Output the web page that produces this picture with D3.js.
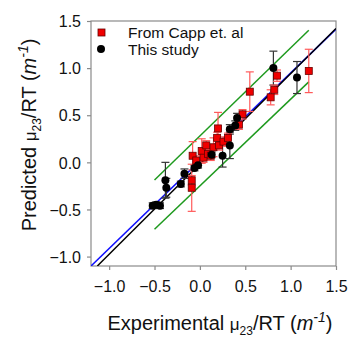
<!DOCTYPE html>
<html>
<head>
  <style>
    body { margin: 0; background: #fff; }
    svg { font-family: Arial, "Liberation Sans", sans-serif; }
  </style>
</head>
<body>
  <svg width="349" height="338"></svg>
  <script src="https://d3js.org/d3.v7.min.js"></script>
  <script>
    // From Capp et. al : [experimental, predicted, error]
    const cappX = [-0.09, -0.09, -0.08, -0.04, 0.02, 0.04, 0.07, 0.09, 0.12, 0.15, 0.19, 0.21, 0.20, 0.26, 0.31, 0.43, 0.47, 0.55, 0.78, 0.82, 0.85, 1.20];
    const cappY = [-0.27, -0.19, 0.07, 0.02, 0.12, 0.05, 0.18, 0.09, 0.07, 0.16, 0.26, 0.18, 0.36, 0.22, 0.26, 0.40, 0.51, 0.75, 0.69, 0.77, 0.92, 0.97];
    const cappErr = [0.25, 0.05, 0.15, 0.05, 0.13, 0.05, 0.05, 0.05, 0.05, 0.10, 0.06, 0.05, 0.17, 0.05, 0.05, 0.05, 0.05, 0.21, 0.08, 0.05, 0.06, 0.23];

    // This study
    const studyX = [-0.52, -0.48, -0.44, -0.38, -0.37, -0.21, -0.17, -0.06, -0.02, 0.13, 0.25, 0.33, 0.33, 0.39, 0.41, 0.81, 1.07];
    const studyY = [-0.46, -0.45, -0.46, -0.19, -0.27, -0.23, -0.12, -0.06, -0.03, 0.08, 0.07, 0.18, 0.35, 0.39, 0.47, 1.00, 0.90];
    const studyErr = [0.03, 0.03, 0.03, 0.19, 0.10, 0.03, 0.05, 0.03, 0.03, 0.03, 0.12, 0.14, 0.05, 0.05, 0.05, 0.18, 0.17];

    // fit lines [slope, intercept, xStart, xEnd]
    const blueLine = [0.931, 0.017, -1.2, 1.5];
    const blackLine = [0.958, -0.017, -1.13, 1.5];
    const upperBand = [0.935, 0.28, -0.5, 1.2];
    const lowerBand = [0.92, -0.25, -0.5, 1.2];

    const xTicks = [-1.0, -0.5, 0.0, 0.5, 1.0, 1.5];
    const yTicks = [-1.0, -0.5, 0.0, 0.5, 1.0, 1.5];

    const pLeft = 91, pRight = 336, pTop = 21, pBottom = 266;
    const svg = d3.select("svg");

    const x = d3.scaleLinear().domain([-1.2, 1.5]).range([pLeft, pRight]);
    const y = d3.scaleLinear().domain([-1.1, 1.5]).range([pBottom, pTop]);

    svg.append("defs").append("clipPath").attr("id", "plot")
      .append("rect").attr("x", pLeft).attr("y", pTop)
      .attr("width", pRight - pLeft).attr("height", pBottom - pTop);

    const axisColor = "#8a8a8a";

    // frame
    svg.append("rect")
      .attr("x", pLeft).attr("y", pTop)
      .attr("width", pRight - pLeft).attr("height", pBottom - pTop)
      .attr("fill", "none").attr("stroke", axisColor).attr("stroke-width", 1.2);

    const xAxis = svg.append("g")
      .attr("transform", `translate(0,${pBottom})`)
      .call(d3.axisBottom(x).tickValues(xTicks).tickFormat(d3.format(".1f")).tickSize(4).tickPadding(11));
    const yAxis = svg.append("g")
      .attr("transform", `translate(${pLeft},0)`)
      .call(d3.axisLeft(y).tickValues(yTicks).tickFormat(d3.format(".1f")).tickSize(4).tickPadding(6));

    [xAxis, yAxis].forEach(a => {
      a.select(".domain").remove();
      a.selectAll("line").attr("stroke", axisColor).attr("stroke-width", 1.2);
      a.selectAll("text").attr("font-size", 16).attr("fill", "#111")
        .attr("font-family", "Arial, 'Liberation Sans', sans-serif");
    });
    yAxis.selectAll("text").attr("dy", "0.36em");

    // lines
    const lines = svg.append("g").attr("clip-path", "url(#plot)");
    function drawLine([m, b, x0, x1], color) {
      lines.append("line")
        .attr("x1", x(x0)).attr("y1", y(m * x0 + b))
        .attr("x2", x(x1)).attr("y2", y(m * x1 + b))
        .attr("stroke", color).attr("stroke-width", 1.5);
    }
    drawLine(upperBand, "#1e9a1e");
    drawLine(lowerBand, "#1e9a1e");
    drawLine(blueLine, "#1010ff");
    drawLine(blackLine, "#000");

    function errorBars(xs, ys, es, color) {
      const g = svg.append("g").attr("stroke", color).attr("stroke-width", 1.2);
      xs.forEach((d, i) => {
        const cx = x(d), y0 = y(ys[i] - es[i]), y1 = y(ys[i] + es[i]);
        g.append("line").attr("x1", cx).attr("x2", cx).attr("y1", y0).attr("y2", y1);
        g.append("line").attr("x1", cx - 4).attr("x2", cx + 4).attr("y1", y0).attr("y2", y0);
        g.append("line").attr("x1", cx - 4).attr("x2", cx + 4).attr("y1", y1).attr("y2", y1);
      });
    }
    errorBars(studyX, studyY, studyErr, "#333");
    errorBars(cappX, cappY, cappErr, "#ff5a5a");

    const sq = 7;
    svg.append("g").selectAll("rect")
      .data(cappX)
      .join("rect")
      .attr("x", (d) => x(d) - sq / 2)
      .attr("y", (d, i) => y(cappY[i]) - sq / 2)
      .attr("width", sq).attr("height", sq)
      .attr("fill", "#f00000").attr("stroke", "#600").attr("stroke-width", 0.8);

    svg.append("g").selectAll("circle")
      .data(studyX)
      .join("circle")
      .attr("cx", (d) => x(d))
      .attr("cy", (d, i) => y(studyY[i]))
      .attr("r", 4)
      .attr("fill", "#000");

    // legend
    const legend = svg.append("g").attr("font-size", 15.5).attr("fill", "#111");
    legend.append("rect").attr("x", 98).attr("y", 29).attr("width", 7).attr("height", 7)
      .attr("fill", "#f00000").attr("stroke", "#600").attr("stroke-width", 0.8);
    legend.append("text").attr("x", 128).attr("y", 38).text("From Capp et. al");
    legend.append("circle").attr("cx", 101).attr("cy", 49).attr("r", 4).attr("fill", "#000");
    legend.append("text").attr("x", 128).attr("y", 55).text("This study");

    // axis titles
    function title(sel, lead) {
      sel.append("tspan").text(lead);
      sel.append("tspan").text("μ").attr("font-size", 17);
      sel.append("tspan").text("23").attr("font-size", 12).attr("dy", 5);
      sel.append("tspan").text("/RT (").attr("dy", -5);
      sel.append("tspan").text("m").attr("font-style", "italic");
      sel.append("tspan").text("-1").attr("font-style", "italic").attr("font-size", 14).attr("dy", -8);
      sel.append("tspan").text(")").attr("dy", 8);
    }
    const xt = svg.append("text").attr("x", 220).attr("y", 330)
      .attr("text-anchor", "middle").attr("font-size", 20).attr("fill", "#111");
    title(xt, "Experimental ");
    const yt = svg.append("text").attr("transform", "translate(36,135) rotate(-90)")
      .attr("text-anchor", "middle").attr("font-size", 20).attr("fill", "#111");
    title(yt, "Predicted ");
  </script>
</body>
</html>
